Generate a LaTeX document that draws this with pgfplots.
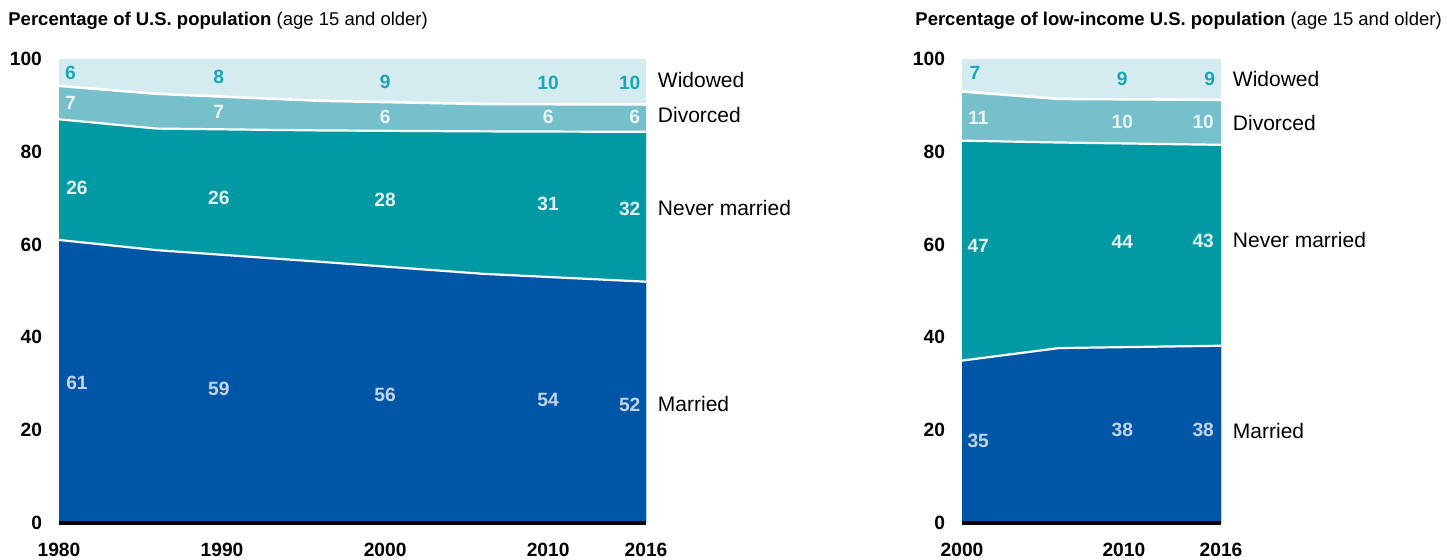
\documentclass[border=0pt]{standalone}
\usepackage{pgfplots}
\pgfplotsset{compat=1.18}
\usepackage{pgfplotstable}
\usepackage{fontspec}
\setmainfont{Liberation Sans}

\definecolor{cMar}{HTML}{0056A6}
\definecolor{cNev}{HTML}{0099A4}
\definecolor{cDiv}{HTML}{76C0CB}
\definecolor{cWid}{HTML}{D4EBEF}
\definecolor{lMar}{HTML}{C5D3EA}
\definecolor{lNev}{HTML}{E4F2F3}
\definecolor{lDiv}{HTML}{E8F4F6}
\definecolor{lWid}{HTML}{1BA5B8}

\pgfplotstableread{
year married never divorced widowed
1980 61.0 26.0 7.2 5.8
1986 58.8 26.2 7.5 7.5
1996 56.3 28.3 6.4 9.0
2006 53.7 30.7 5.9 9.7
2016 52.0 32.3 5.9 9.8
}\tabUS

\pgfplotstableread{
year married never divorced widowed
2000 35.0 47.4 10.6 7.0
2006 37.7 44.3 9.4 8.6
2016 38.2 43.3 9.7 8.8
}\tabLow

\pgfplotsset{
  panel/.style={
    scale only axis, height=232pt, ymin=0, ymax=100,
    axis line style={draw=none}, tick style={draw=none},
    ytick={0,20,40,60,80,100},
    /pgf/number format/assume math mode=true,
    /pgf/number format/1000 sep={},
    ticklabel style={font=\bfseries\fontsize{9.6}{11}\selectfont},
    yticklabel style={xshift=-5pt},
    xticklabel style={yshift=-6.5pt},
    clip=false,
  },
}
\tikzset{
  vl/.style={font=\bfseries\fontsize{9.6}{11}\selectfont},
  sl/.style={font=\fontsize{10.5}{12}\selectfont, anchor=west, text=black},
}

\begin{document}
\begin{tikzpicture}
\path[use as bounding box] (0,0) rectangle (728pt,280pt);

\node[anchor=west, inner sep=0pt, font=\fontsize{9.25}{11}\selectfont] at (4pt,269.8pt)
  {\textbf{Percentage of U.S. population} (age 15 and older)};
\node[anchor=west, inner sep=0pt, font=\fontsize{9.25}{11}\selectfont] at (457.5pt,269.8pt)
  {\textbf{Percentage of low-income U.S. population} (age 15 and older)};

% ---------------- Left panel
\begin{axis}[panel, at={(29.5pt,18.5pt)}, anchor=south west,
  width=293.5pt, xmin=1980, xmax=2016, xtick={1980,1990,2000,2010,2016}]
\addplot[fill=cWid, draw=none] table[x=year, y expr=100] {\tabUS} \closedcycle;
\addplot[fill=cDiv, draw=none] table[x=year, y expr=\thisrow{married}+\thisrow{never}+\thisrow{divorced}] {\tabUS} \closedcycle;
\addplot[fill=cNev, draw=none] table[x=year, y expr=\thisrow{married}+\thisrow{never}] {\tabUS} \closedcycle;
\addplot[fill=cMar, draw=none] table[x=year, y=married] {\tabUS} \closedcycle;
\addplot[white, line width=1.1pt] table[x=year, y=married] {\tabUS};
\addplot[white, line width=1.1pt] table[x=year, y expr=\thisrow{married}+\thisrow{never}] {\tabUS};
\addplot[white, line width=1.3pt] table[x=year, y expr=\thisrow{married}+\thisrow{never}+\thisrow{divorced}] {\tabUS};
\draw[black, line width=2.3pt] (axis cs:1980,0) -- (axis cs:2016,0);
% value labels
\node[vl, text=lWid] at (axis cs:1980.7,96.9) {6};
\node[vl, text=lWid] at (axis cs:1989.8,96.1) {8};
\node[vl, text=lWid] at (axis cs:2000,95.0) {9};
\node[vl, text=lWid] at (axis cs:2010,94.8) {10};
\node[vl, text=lWid] at (axis cs:2015,94.8) {10};
\node[vl, text=lDiv] at (axis cs:1980.7,90.5) {7};
\node[vl, text=lDiv] at (axis cs:1989.8,88.6) {7};
\node[vl, text=lDiv] at (axis cs:2000,87.5) {6};
\node[vl, text=lDiv] at (axis cs:2010,87.5) {6};
\node[vl, text=lDiv] at (axis cs:2015.3,87.5) {6};
\node[vl, text=lNev] at (axis cs:1981.1,72.3) {26};
\node[vl, text=lNev] at (axis cs:1989.8,70.0) {26};
\node[vl, text=lNev] at (axis cs:2000,69.6) {28};
\node[vl, text=lNev] at (axis cs:2010,68.7) {31};
\node[vl, text=lNev] at (axis cs:2015,67.7) {32};
\node[vl, text=lMar] at (axis cs:1981.1,30.2) {61};
\node[vl, text=lMar] at (axis cs:1989.8,28.9) {59};
\node[vl, text=lMar] at (axis cs:2000,27.7) {56};
\node[vl, text=lMar] at (axis cs:2010,26.5) {54};
\node[vl, text=lMar] at (axis cs:2015,25.5) {52};
% series labels
\node[sl] at (axis cs:2016.3,95.4) {Widowed};
\node[sl] at (axis cs:2016.3,87.9) {Divorced};
\node[sl] at (axis cs:2016.3,67.9) {Never married};
\node[sl] at (axis cs:2016.3,25.6) {Married};
\end{axis}

% ---------------- Right panel
\begin{axis}[panel, at={(481pt,18.5pt)}, anchor=south west,
  width=129.5pt, xmin=2000, xmax=2016, xtick={2000,2010,2016}]
\addplot[fill=cWid, draw=none] table[x=year, y expr=100] {\tabLow} \closedcycle;
\addplot[fill=cDiv, draw=none] table[x=year, y expr=\thisrow{married}+\thisrow{never}+\thisrow{divorced}] {\tabLow} \closedcycle;
\addplot[fill=cNev, draw=none] table[x=year, y expr=\thisrow{married}+\thisrow{never}] {\tabLow} \closedcycle;
\addplot[fill=cMar, draw=none] table[x=year, y=married] {\tabLow} \closedcycle;
\addplot[white, line width=1.1pt] table[x=year, y=married] {\tabLow};
\addplot[white, line width=1.1pt] table[x=year, y expr=\thisrow{married}+\thisrow{never}] {\tabLow};
\addplot[white, line width=1.3pt] table[x=year, y expr=\thisrow{married}+\thisrow{never}+\thisrow{divorced}] {\tabLow};
\draw[black, line width=2.3pt] (axis cs:2000,0) -- (axis cs:2016,0);
\node[vl, text=lWid] at (axis cs:2000.8,97.1) {7};
\node[vl, text=lWid] at (axis cs:2009.9,95.7) {9};
\node[vl, text=lWid] at (axis cs:2015.3,95.7) {9};
\node[vl, text=lDiv] at (axis cs:2001,87.4) {11};
\node[vl, text=lDiv] at (axis cs:2009.9,86.4) {10};
\node[vl, text=lDiv] at (axis cs:2014.9,86.4) {10};
\node[vl, text=lNev] at (axis cs:2001,59.7) {47};
\node[vl, text=lNev] at (axis cs:2009.9,60.5) {44};
\node[vl, text=lNev] at (axis cs:2014.9,60.9) {43};
\node[vl, text=lMar] at (axis cs:2001,17.7) {35};
\node[vl, text=lMar] at (axis cs:2009.9,20.0) {38};
\node[vl, text=lMar] at (axis cs:2014.9,20.0) {38};
\node[sl] at (axis cs:2016.3,95.6) {Widowed};
\node[sl] at (axis cs:2016.3,86.2) {Divorced};
\node[sl] at (axis cs:2016.3,60.9) {Never married};
\node[sl] at (axis cs:2016.3,19.8) {Married};
\end{axis}
\end{tikzpicture}
\end{document}
